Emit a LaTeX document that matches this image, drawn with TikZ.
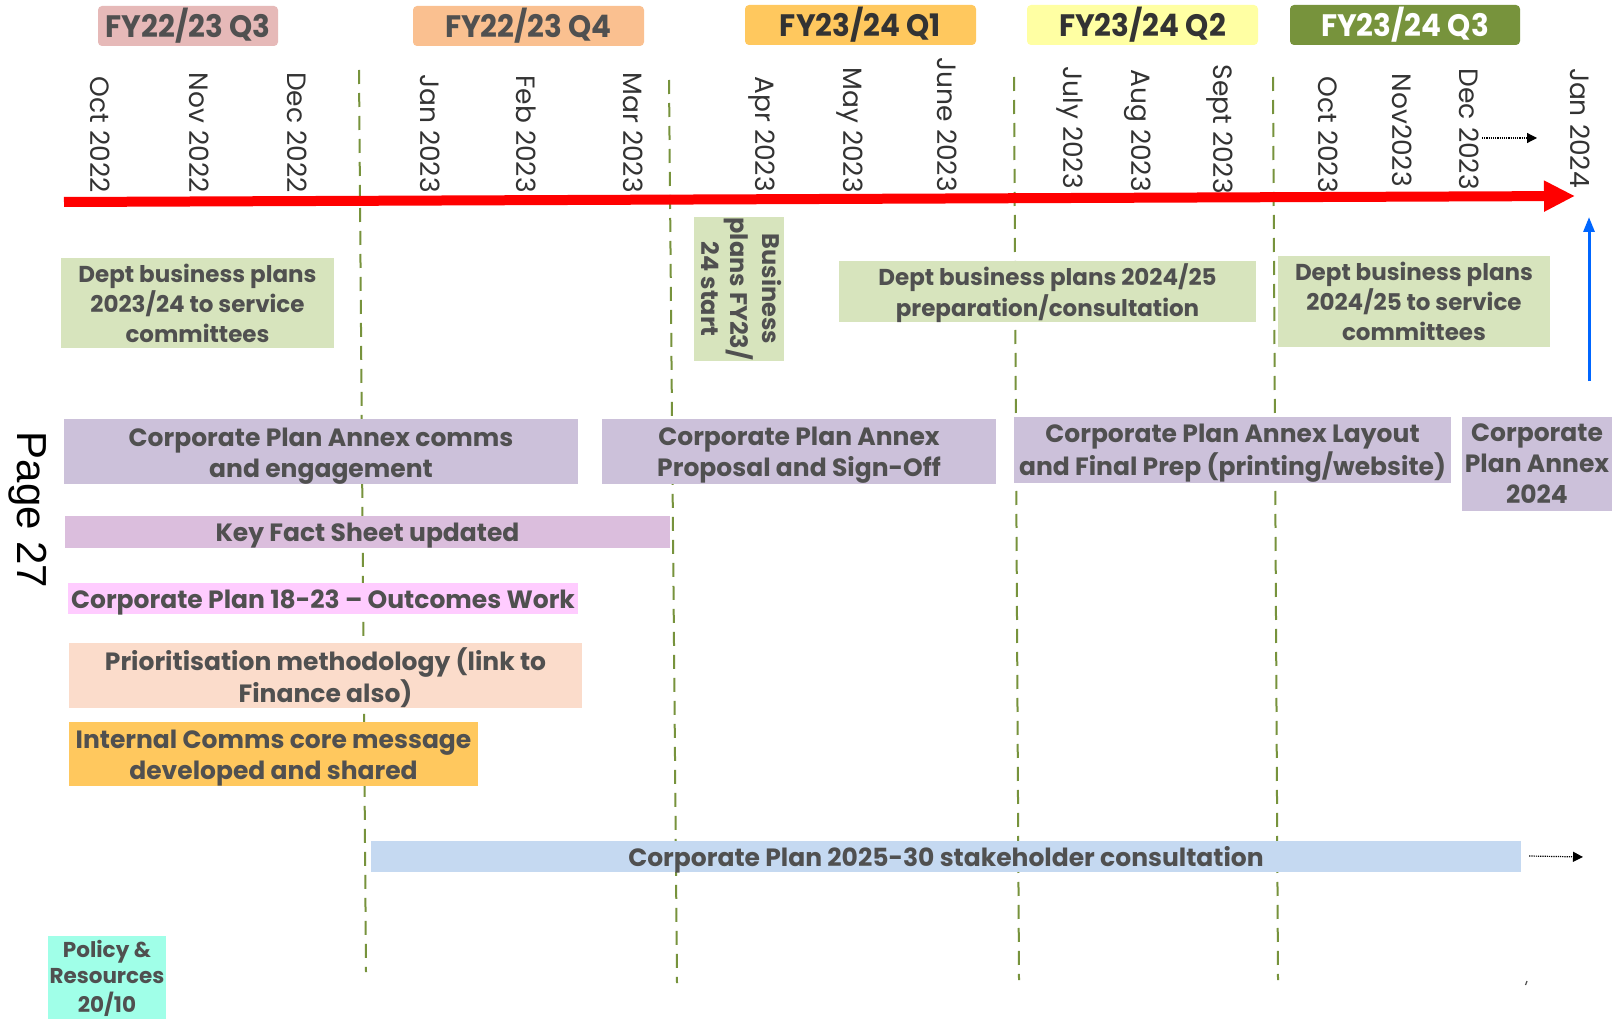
\documentclass[tikz,border=0pt]{standalone}
\usepackage{fontspec}
\usetikzlibrary{arrows.meta}
\setmainfont{Poppins}
\newfontfamily\bx{Poppins}
\newfontfamily\qx{Poppins}[FakeStretch=0.95]
\newfontfamily\mo{Poppins}
\newfontfamily\pg{Liberation Sans}
\definecolor{qa}{HTML}{E6B9B8}
\definecolor{qb}{HTML}{FAC090}
\definecolor{qc}{HTML}{FFC85E}
\definecolor{qd}{HTML}{FFFFA3}
\definecolor{qe}{HTML}{77933C}
\definecolor{dgreen}{HTML}{D7E4BD}
\definecolor{cpurple}{HTML}{CCC1DA}
\definecolor{kfs}{HTML}{DBBEDD}
\definecolor{outc}{HTML}{FFCCFF}
\definecolor{prio}{HTML}{FBDCCB}
\definecolor{icomm}{HTML}{FFC85E}
\definecolor{stake}{HTML}{C5D9F1}
\definecolor{policy}{HTML}{A0FFE8}
\definecolor{txt}{HTML}{505050}
\definecolor{mtxt}{HTML}{333333}
\definecolor{bluearr}{HTML}{0066FF}
\newcommand\lowtx[2]{\raisebox{#1}[\height][\depth]{\begin{tabular}{@{}c@{}}#2\end{tabular}}}
\tikzset{
  quarter/.style={rounded corners=4pt, minimum height=40pt, inner sep=0pt, text=txt,
    font={\qx\bfseries\fontsize{31}{34}\selectfont}},
  month/.style={rotate=-90, anchor=east, inner sep=0pt, text=mtxt,
    font={\mo\fontsize{26.5}{30}\selectfont}},
  task/.style={inner sep=0pt, text=txt,
    font={\bx\bfseries\fontsize{25}{31}\selectfont}},
  dept/.style={task, fill=dgreen, font={\bx\bfseries\fontsize{23}{30}\selectfont}},
  qline/.style={draw=qe, line width=2pt, dash pattern=on 14pt off 9pt},
  timeline/.style={draw=red, line width=10pt, -{Triangle[length=31pt,width=29pt]}},
  uparr/.style={draw=bluearr, line width=3pt, -{Triangle[length=15pt,width=11pt]}},
  darr/.style={draw=black, line width=1.2pt, densely dotted, -{Triangle[length=10pt,width=10pt]}},
}
\begin{document}
\begin{tikzpicture}[x=1pt,y=-1pt]
\useasboundingbox (0,0) rectangle (1614,1019);
\fill[white] (0,0) rectangle (1614,1019);

% quarter headers
\node[quarter, fill=qa, minimum width=180pt] (q1) at (188,26) {FY22/23 Q3};
\node[quarter, fill=qb, minimum width=231pt] (q2) at (528.5,26) {FY22/23 Q4};
\node[quarter, fill=qc, minimum width=231pt, text=black!80] (q3) at (860.5,25) {FY23/24 Q1};
\node[quarter, fill=qd, minimum width=231pt, text=black!80] (q4) at (1142.5,25) {FY23/24 Q2};
\node[quarter, fill=qe, minimum width=230pt, text=white] (q5) at (1405,25) {FY23/24 Q3};

% quarter separators
\coordinate (s1a) at (359,70);   \coordinate (s1b) at (366,972);
\coordinate (s2a) at (669,80);   \coordinate (s2b) at (677,983);
\coordinate (s3a) at (1014,77);  \coordinate (s3b) at (1019,980);
\coordinate (s4a) at (1273,77);  \coordinate (s4b) at (1278,980);
\draw[qline] (s1a) -- (s1b);
\draw[qline] (s2a) -- (s2b);
\draw[qline] (s3a) -- (s3b);
\draw[qline] (s4a) -- (s4b);

% months
\node[month] (m01) at (100,193) {Oct 2022};
\node[month] (m02) at (199,193) {Nov 2022};
\node[month] (m03) at (297,193) {Dec 2022};
\node[month] (m04) at (430,193) {Jan 2023};
\node[month] (m05) at (526,193) {Feb 2023};
\node[month] (m06) at (633,193) {Mar 2023};
\node[month] (m07) at (762,192) {Apr 2023};
\node[month] (m08) at (850,193) {May 2023};
\node[month] (m09) at (947,192) {June 2023};
\node[month] (m10) at (1070,189) {July 2023};
\node[month] (m11) at (1138,192) {Aug 2023};
\node[month] (m12) at (1220,194) {Sept 2023};
\node[month] (m13) at (1328,193) {Oct 2023};
\node[month] (m14) at (1402,187) {Nov2023};
\node[month] (m15) at (1469,190) {Dec 2023};
\node[month] (m16) at (1580,188) {Jan 2024};

% timeline arrow
\coordinate (tl0) at (64,202);
\coordinate (tl1) at (1575,196);
\draw[timeline] (tl0) -- (tl1);

% dotted arrow near Dec 2023
\coordinate (da0) at (1482,138);
\coordinate (da1) at (1537,138);
\draw[darr] (da0) -- (da1);

% tasks
\node[dept, minimum width=273pt, minimum height=88pt] (d1) at (197.5,303)
  {\lowtx{-3.5pt}{Dept business plans\\2023/24 to service\\committees}};
\node[task, fill=dgreen, rotate=-90, minimum width=144pt, minimum height=88pt,
  font={\bx\bfseries\fontsize{24}{29}\selectfont}] (b1) at (739,289)
  {\lowtx{-1pt}{Business\\plans FY23/\\24 start}};
\node[dept, minimum width=417pt, minimum height=59pt] (d2) at (1047.5,291.5)
  {\lowtx{-3pt}{Dept business plans 2024/25\\preparation/consultation}};
\node[dept, minimum width=272pt, minimum height=89pt] (d3) at (1414,301.5)
  {\lowtx{-3pt}{Dept business plans\\2024/25 to service\\committees}};

\coordinate (ba0) at (1589,381);
\coordinate (ba1) at (1589,217);
\draw[uparr] (ba0) -- (ba1);

\node[task, fill=cpurple, minimum width=514pt, minimum height=65pt] (c1) at (321,451.5)
  {\lowtx{-4pt}{Corporate Plan Annex comms\\and engagement}};
\node[task, fill=cpurple, minimum width=394pt, minimum height=65pt] (c2) at (799,451.5)
  {\lowtx{-3pt}{Corporate Plan Annex\\Proposal and Sign-Off}};
\node[task, fill=cpurple, minimum width=437pt, minimum height=66pt] (c3) at (1232.5,450)
  {\lowtx{-3pt}{Corporate Plan Annex Layout\\and Final Prep (printing/website)}};
\node[task, fill=cpurple, minimum width=150pt, minimum height=94pt] (c4) at (1537,464)
  {\lowtx{-2pt}{Corporate\\Plan Annex\\2024}};

\node[task, fill=kfs, minimum width=605pt, minimum height=32pt] (k) at (367.5,532)
  {\lowtx{-3pt}{Key Fact Sheet updated}};
\node[task, fill=outc, minimum width=510pt, minimum height=29pt] (o) at (323,598.5)
  {\lowtx{-4pt}{Corporate Plan 18-23 – Outcomes Work}};
\node[task, fill=prio, minimum width=513pt, minimum height=63pt] (p) at (325.5,675.5)
  {\lowtx{-4pt}{Prioritisation methodology (link to\\Finance also)}};
\node[task, fill=icomm, minimum width=409pt, minimum height=64pt] (ic) at (273.5,754)
  {\lowtx{-4pt}{Internal Comms core message\\developed and shared}};
\node[task, fill=stake, minimum width=1150pt, minimum height=30pt] (sc) at (946,856)
  {\lowtx{-4pt}{Corporate Plan 2025-30 stakeholder consultation}};

\coordinate (sca) at (1583,857);
\draw[darr] ([xshift=8pt]sc.east) -- (sca);

\node[task, fill=policy, minimum width=118pt, minimum height=83pt,
  font={\bx\bfseries\fontsize{21.5}{26.5}\selectfont}] (pr) at (107,977.5)
  {\lowtx{-2pt}{Policy \&\\Resources\\20/10}};

% page label
\node[rotate=-90, inner sep=0pt, font={\pg\fontsize{42}{42}\selectfont}] (pg) at (28,510) {Page 27};

% small mark
\coordinate (mk0) at (1527,981);
\coordinate (mk1) at (1525.5,985);
\draw[black!70, line width=1.2pt] (mk0) -- (mk1);
\end{tikzpicture}
\end{document}
